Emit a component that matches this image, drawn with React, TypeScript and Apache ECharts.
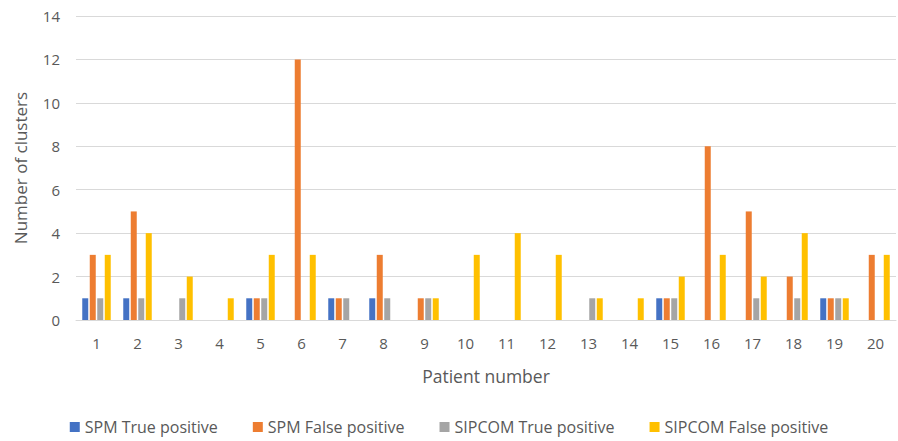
import React, { useEffect, useRef } from "react";
import * as echarts from "echarts";

const patients = ["1","2","3","4","5","6","7","8","9","10","11","12","13","14","15","16","17","18","19","20"];
const spmTP = [1,1,0,0,1,0,1,1,0,0,0,0,0,0,1,0,0,0,1,0];
const spmFP = [3,5,0,0,1,12,1,3,1,0,0,0,0,0,1,8,5,2,1,3];
const sipTP = [1,1,1,0,1,0,1,1,1,0,0,0,1,0,1,0,1,1,1,0];
const sipFP = [3,4,2,1,3,3,0,0,1,3,4,3,1,1,2,3,2,4,1,3];
const seriesNames = ["SPM True positive","SPM False positive","SIPCOM True positive","SIPCOM False positive"];
const colors = ["#4472C4","#ED7D31","#A5A5A5","#FFC000"];

const FONT = "'Open Sans', 'Liberation Sans', sans-serif";

export default function App() {
  const ref = useRef<HTMLDivElement>(null);
  useEffect(() => {
    document.body.style.margin = "0";
    const chart = echarts.init(ref.current!, null, { renderer: "svg" });
    const data = [spmTP, spmFP, sipTP, sipFP];
    chart.setOption({
      animation: false,
      textStyle: { fontFamily: FONT },
      grid: { left: 76, right: 2, top: 16, bottom: 121, containLabel: false },
      legend: {
        bottom: 1,
        left: "center",
        itemWidth: 10,
        itemHeight: 10,
        itemGap: 35,
        icon: "rect",
        textStyle: { fontSize: 16, color: "#595959", fontFamily: FONT },
        data: seriesNames,
      },
      xAxis: {
        type: "category",
        data: patients,
        name: "Patient number",
        nameLocation: "middle",
        nameGap: 47,
        nameTextStyle: { fontSize: 17.5, color: "#595959" },
        axisLine: { lineStyle: { color: "#d9d9d9", width: 1 } },
        axisTick: { show: false },
        axisLabel: { fontSize: 15, color: "#595959", margin: 15 },
      },
      yAxis: {
        type: "value",
        min: 0,
        max: 14,
        interval: 2,
        name: "Number of clusters",
        nameLocation: "middle",
        nameGap: 47,
        nameTextStyle: { fontSize: 17, color: "#595959" },
        axisLine: { show: false },
        axisTick: { show: false },
        axisLabel: { fontSize: 15, color: "#595959", margin: 16 },
        splitLine: { lineStyle: { color: "#d9d9d9", width: 1 } },
      },
      series: seriesNames.map((n, i) => ({
        name: n,
        type: "bar",
        data: data[i],
        barWidth: 6,
        barGap: "25%",
        itemStyle: { color: colors[i] },
      })),
    });
    return () => chart.dispose();
  }, []);
  return <div ref={ref} style={{ width: 898, height: 441 }} />;
}
